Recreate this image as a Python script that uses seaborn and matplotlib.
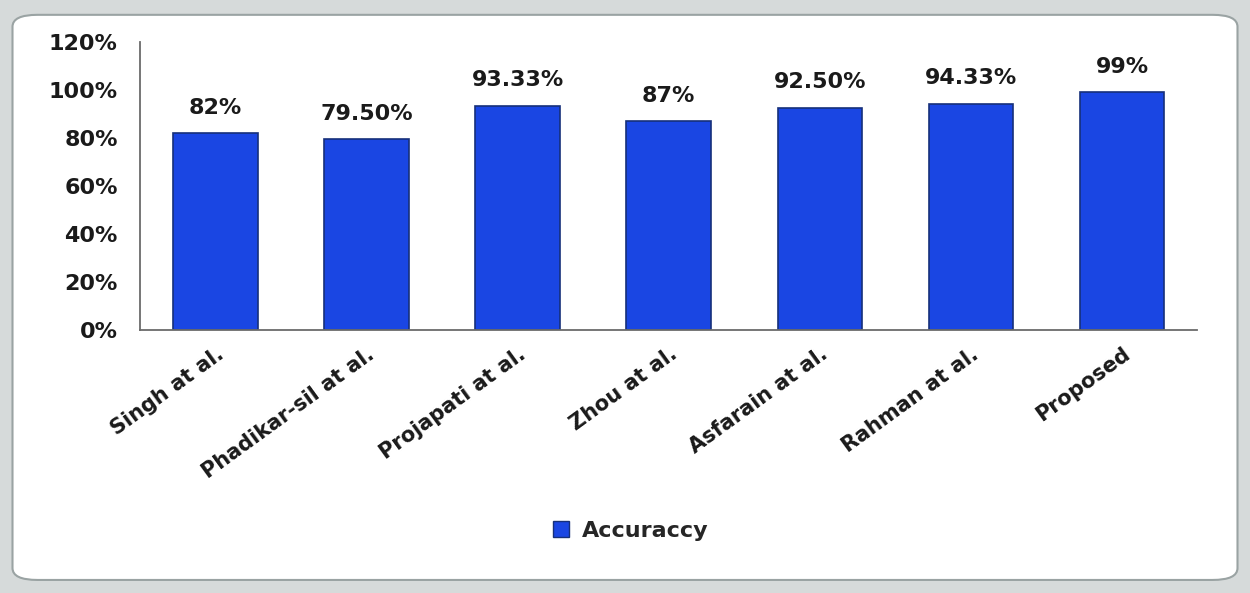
import matplotlib

matplotlib.use("Agg")

import matplotlib.pyplot as plt
import pandas as pd
import seaborn as sns
from matplotlib.patches import FancyBboxPatch, Rectangle
from matplotlib.ticker import FuncFormatter

METHODS = [
    "Singh at al.",
    "Phadikar-sil at al.",
    "Projapati at al.",
    "Zhou at al.",
    "Asfarain at al.",
    "Rahman at al.",
    "Proposed",
]
ACCURACY = [82, 79.5, 93.33, 87, 92.5, 94.33, 99]
VALUE_LABELS = ["82%", "79.50%", "93.33%", "87%", "92.50%", "94.33%", "99%"]
SERIES_NAME = "Accuraccy"
BAR_COLOR = "#1a46e3"

sns.set_theme(style="white")
plt.rcParams["font.family"] = ["DejaVu Sans"]

df = pd.DataFrame({"method": METHODS, "accuracy": ACCURACY})

fig = plt.figure(figsize=(12.5, 5.93), dpi=100)
fig.patch.set_facecolor("#d6dada")
# white rounded chart area, like an Excel chart frame
frame = FancyBboxPatch((0.01, 0.022), 0.98, 0.953, boxstyle="round,pad=0,rounding_size=0.02",
                       transform=fig.transFigure, facecolor="white", edgecolor="#9aa3a3",
                       linewidth=1.5, zorder=-10)
fig.patches.append(frame)

ax = fig.add_axes([0.112, 0.4435, 0.846, 0.4855])
ax.set_zorder(1)
ax.set_facecolor("none")
sns.barplot(data=df, x="method", y="accuracy", color=BAR_COLOR, width=0.56,
            edgecolor="#16307a", linewidth=1.2, saturation=1, ax=ax, label=SERIES_NAME)

ax.set_ylim(0, 120)
ax.set_yticks(range(0, 121, 20))
ax.yaxis.set_major_formatter(FuncFormatter(lambda v, _: f"{int(v)}%"))
ax.set_xlim(-0.5, len(METHODS) - 0.5)
ax.set_xlabel("")
ax.set_ylabel("")
if ax.get_legend() is not None:
    ax.get_legend().remove()

for spine in ["top", "right"]:
    ax.spines[spine].set_visible(False)
for spine in ["left", "bottom"]:
    ax.spines[spine].set_color("#6b6b6b")
    ax.spines[spine].set_linewidth(1.3)

ax.tick_params(axis="y", length=0, pad=16, labelsize=16)
ax.tick_params(axis="x", length=0, pad=10, labelsize=15)
for lbl in ax.get_yticklabels():
    lbl.set_fontweight("bold")
plt.setp(ax.get_yticklabels(), color="#1a1a1a")
plt.setp(ax.get_xticklabels(), rotation=36, ha="right", rotation_mode="anchor", fontweight="bold",
         color="#1a1a1a")

for i, (val, txt) in enumerate(zip(ACCURACY, VALUE_LABELS)):
    ax.text(i, val + 6.5, txt, ha="center", va="bottom", fontsize=16, fontweight="bold", color="#1a1a1a")

handle = Rectangle((0, 0), 1, 1, facecolor=BAR_COLOR, edgecolor="#16307a")
fig.legend([handle], [SERIES_NAME], loc="center", bbox_to_anchor=(0.505, 0.105), frameon=False,
           prop={"size": 16, "weight": "bold"}, handlelength=0.7, handleheight=0.7, handletextpad=0.6)

fig.savefig("out.png", dpi=100)
